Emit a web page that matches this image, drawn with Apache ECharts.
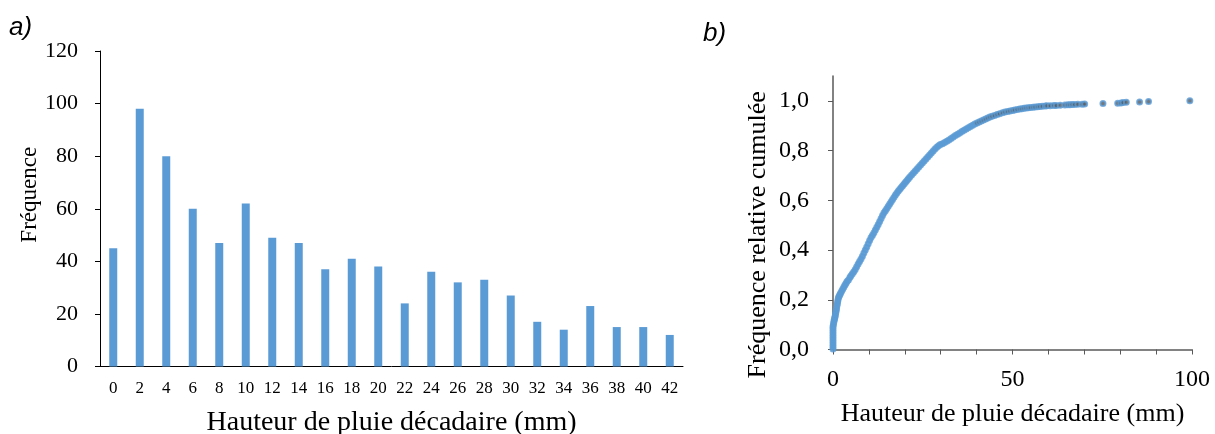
<!DOCTYPE html>
<html>
<head>
<meta charset="utf-8">
<script src="https://cdn.jsdelivr.net/npm/echarts@6/dist/echarts.min.js"></script>
<style>
  html, body { margin: 0; padding: 0; background: #fff; }
  #main { width: 1215px; height: 434px; }
</style>
</head>
<body>
<div id="main"></div>
<script>
// a) histogramme
var classes = ['0','2','4','6','8','10','12','14','16','18','20','22','24','26','28','30','32','34','36','38','40','42'];
var frequence = [45, 98, 80, 60, 47, 62, 49, 47, 37, 41, 38, 24, 36, 32, 33, 27, 17, 14, 23, 15, 15, 12];

// b) frequence relative cumulee (lue sur la figure)
var pluie = [
  0, 0, 0, 0, 0, 0, 0, 0, 0, 0,
  0.1, 0.2, 0.3, 0.4, 0.5, 0.6, 0.7, 0.8, 0.9, 1.0, 1.1, 1.2, 1.3, 1.4, 1.5, 1.7, 1.9, 2.1, 2.4, 2.7,
  3.0, 3.3, 3.6, 3.9, 4.3, 4.7, 5.0, 5.4, 5.8, 6.2, 6.6, 7.0, 7.4, 7.8, 8.2, 8.6, 9.0, 9.4, 9.8, 10.2,
  10.6, 11.0, 11.4, 11.8, 12.2, 12.6, 13.0, 13.4, 13.8, 14.2, 14.6, 15.0, 15.4, 15.8, 16.2, 16.6, 17.0, 17.4, 17.8, 18.2,
  18.6, 19.0, 19.4, 19.8, 20.2, 20.6, 21.0, 21.4, 21.9, 22.4, 22.9, 23.4, 23.9, 24.4, 24.9, 25.4, 25.9, 26.4, 26.9, 27.4,
  27.9, 28.4, 28.9, 29.4, 29.9, 30.5, 31.1, 31.7, 32.3, 32.9, 33.5, 34.1, 34.7, 35.3, 35.9, 36.5, 37.1, 37.7, 38.3, 38.9,
  39.5, 40.1, 40.7, 41.3, 41.9, 42.5, 43.1, 43.7, 44.3, 45.0, 45.7, 46.4, 47.2, 47.9, 48.6, 49.3, 50.0, 50.6, 51.3, 52.0,
  52.6, 53.2, 53.8, 54.4, 55.0, 55.7, 56.3, 57.0, 57.6, 58.3, 59.1, 59.6, 60.5, 61.5, 62.2, 63.3, 64.6, 65.4, 66.0, 66.6,
  67.3, 68.2, 69.4, 70.1, 75.2, 79.3, 80.2, 80.8, 81.7, 85.4, 87.9, 99.4
];
var freqCumulee = [
  0.002, 0.012, 0.022, 0.032, 0.042, 0.052, 0.062, 0.072, 0.082, 0.092,
  0.100, 0.108, 0.116, 0.122, 0.128, 0.134, 0.142, 0.150, 0.158, 0.166, 0.176, 0.184, 0.192, 0.200, 0.208, 0.214, 0.220, 0.226, 0.234, 0.242,
  0.250, 0.258, 0.265, 0.273, 0.280, 0.290, 0.297, 0.305, 0.313, 0.322, 0.333, 0.344, 0.354, 0.364, 0.375, 0.388, 0.400, 0.412, 0.425, 0.438,
  0.450, 0.460, 0.470, 0.481, 0.492, 0.503, 0.515, 0.527, 0.539, 0.550, 0.558, 0.567, 0.576, 0.585, 0.594, 0.603, 0.612, 0.621, 0.629, 0.637,
  0.645, 0.652, 0.659, 0.666, 0.673, 0.680, 0.687, 0.694, 0.702, 0.710, 0.718, 0.726, 0.734, 0.742, 0.750, 0.758, 0.766, 0.774, 0.782, 0.790,
  0.798, 0.806, 0.813, 0.819, 0.824, 0.828, 0.833, 0.838, 0.843, 0.849, 0.855, 0.861, 0.866, 0.871, 0.877, 0.882, 0.887, 0.892, 0.897, 0.902,
  0.907, 0.911, 0.915, 0.919, 0.923, 0.927, 0.931, 0.935, 0.938, 0.941, 0.945, 0.948, 0.952, 0.955, 0.957, 0.959, 0.961, 0.963, 0.965, 0.967,
  0.968, 0.970, 0.971, 0.972, 0.973, 0.974, 0.975, 0.976, 0.977, 0.978, 0.979, 0.980, 0.980, 0.981, 0.981, 0.982, 0.983, 0.984, 0.984, 0.985,
  0.985, 0.986, 0.986, 0.987, 0.989, 0.990, 0.991, 0.993, 0.994, 0.995, 0.997, 1.000
];
var yTicksB = [0, 0.2, 0.4, 0.6, 0.8, 1.0];

var serif = '"Liberation Serif", "Times New Roman", serif';
var bleu = '#5b9bd5';

var points = [];
for (var i = 0; i < pluie.length; i++) {
  points.push([pluie[i], freqCumulee[i]]);
}

var chart = echarts.init(document.getElementById('main'), null, { renderer: 'canvas' });

var option = {
  animation: false,
  backgroundColor: '#fff',
  graphic: [
    { type: 'text', left: 9, top: 15, style: { text: 'a)', font: 'italic 26px "Liberation Sans", Arial, sans-serif', fill: '#000' } },
    { type: 'text', left: 703, top: 21, style: { text: 'b)', font: 'italic 26px "Liberation Sans", Arial, sans-serif', fill: '#000' } }
  ],
  grid: [
    { left: 100, top: 51, width: 583, height: 315.5, outerBoundsMode: 'none' },
    { left: 833, top: 76, width: 359, height: 273.5, outerBoundsMode: 'none' }
  ],
  xAxis: [
    {
      gridIndex: 0,
      type: 'category',
      data: classes,
      axisLine: { lineStyle: { color: '#000', width: 1 } },
      axisTick: { length: 5, lineStyle: { color: '#000' } },
      axisLabel: { interval: 0, fontSize: 17, color: '#000', fontFamily: serif, margin: 14 },
      name: 'Hauteur de pluie décadaire (mm)',
      nameLocation: 'middle',
      nameGap: 42,
      nameTextStyle: { fontSize: 28, color: '#000', fontFamily: serif }
    },
    {
      gridIndex: 1,
      type: 'value',
      min: 0,
      max: 100,
      interval: 10,
      axisLine: { lineStyle: { color: '#595959', width: 1.5 } },
      axisTick: { length: 5, lineStyle: { color: '#595959' } },
      splitLine: { show: false },
      axisLabel: {
        fontSize: 24, color: '#000', fontFamily: serif, margin: 18,
        formatter: function (v) { return v % 50 === 0 ? String(v) : ''; }
      },
      name: 'Hauteur de pluie décadaire (mm)',
      nameLocation: 'middle',
      nameGap: 52,
      nameTextStyle: { fontSize: 26, color: '#000', fontFamily: serif }
    }
  ],
  yAxis: [
    {
      gridIndex: 0,
      type: 'value',
      min: 0,
      max: 120,
      interval: 20,
      axisLine: { show: true, lineStyle: { color: '#000', width: 1 } },
      axisTick: { show: true, length: 5, lineStyle: { color: '#000' } },
      splitLine: { show: false },
      axisLabel: { fontSize: 22, color: '#000', fontFamily: serif, margin: 22 },
      name: 'Fréquence',
      nameLocation: 'middle',
      nameGap: 56,
      nameTextStyle: { fontSize: 23, color: '#000', fontFamily: serif, padding: [0, 0, 0, 28] }
    },
    {
      gridIndex: 1,
      type: 'value',
      min: 0,
      max: 1.1,
      axisLine: { show: true, lineStyle: { color: '#595959', width: 1.5 } },
      axisTick: { show: true, length: 5, lineStyle: { color: '#595959' }, customValues: yTicksB },
      splitLine: { show: false },
      axisLabel: {
        fontSize: 24, color: '#000', fontFamily: serif, margin: 24,
        customValues: yTicksB,
        formatter: function (v) { return v.toFixed(1).replace('.', ','); }
      },
      name: 'Fréquence relative cumulée',
      nameLocation: 'middle',
      nameGap: 62,
      nameTextStyle: { fontSize: 26, color: '#000', fontFamily: serif, padding: [0, 44, 0, 0] }
    }
  ],
  series: [
    {
      name: 'Fréquence',
      type: 'bar',
      xAxisIndex: 0,
      yAxisIndex: 0,
      data: frequence,
      barWidth: 8,
      itemStyle: { color: bleu }
    },
    {
      name: 'Fréquence relative cumulée',
      type: 'scatter',
      xAxisIndex: 1,
      yAxisIndex: 1,
      data: points,
      symbol: 'circle',
      symbolSize: 5,
      itemStyle: {
        color: function (p) { return p.value[0] > 40 ? '#555555' : bleu; },
        borderColor: bleu,
        borderWidth: 2
      }
    }
  ]
};

chart.setOption(option);
</script>
</body>
</html>
